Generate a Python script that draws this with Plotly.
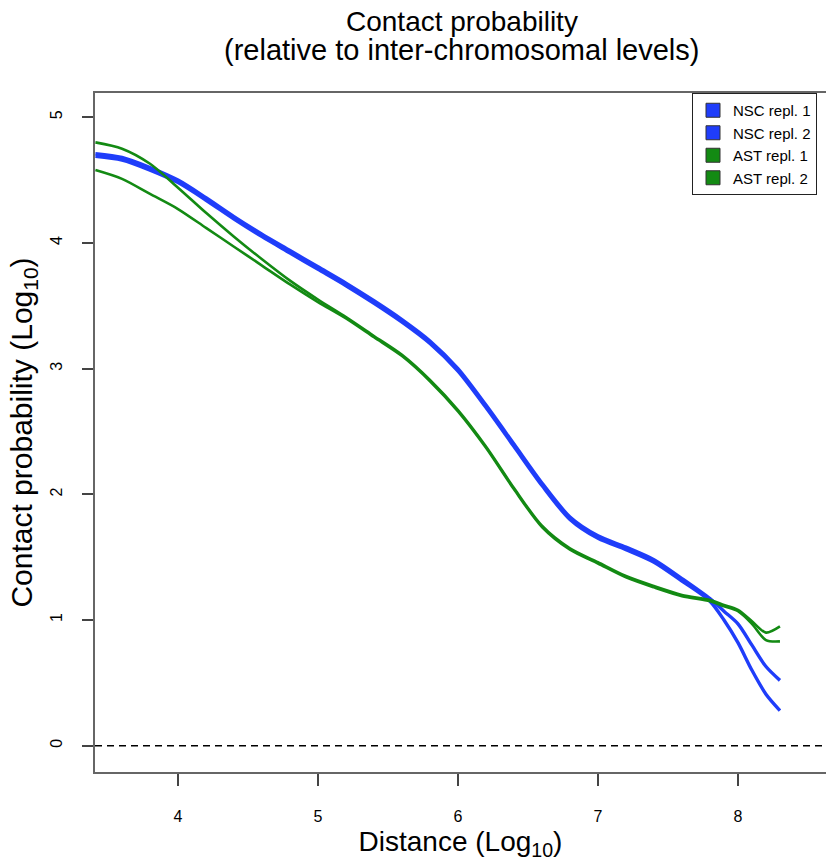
import plotly.graph_objects as go

# Distance (log10) grid shared by all curves
dist = [3.41, 3.6, 3.8, 4.0, 4.2, 4.4, 4.6, 4.8, 5.0, 5.2, 5.4, 5.6, 5.8, 6.0,
        6.2, 6.4, 6.6, 6.8, 7.0, 7.2, 7.4, 7.6, 7.8, 7.9, 8.0, 8.1, 8.2, 8.3]

# Contact probability (log10) per replicate
nsc_rep1 = [4.71, 4.68, 4.60, 4.50, 4.36, 4.21, 4.07, 3.94, 3.81, 3.68, 3.54,
            3.39, 3.22, 3.00, 2.71, 2.40, 2.09, 1.82, 1.67, 1.58, 1.48, 1.33,
            1.17, 1.07, 0.97, 0.80, 0.63, 0.52]
nsc_rep2 = [4.69, 4.66, 4.58, 4.48, 4.34, 4.19, 4.05, 3.92, 3.79, 3.66, 3.52,
            3.37, 3.20, 2.98, 2.69, 2.38, 2.07, 1.80, 1.65, 1.56, 1.46, 1.31,
            1.15, 1.00, 0.82, 0.60, 0.41, 0.28]
ast_rep1 = [4.80, 4.75, 4.63, 4.44, 4.24, 4.05, 3.87, 3.70, 3.55, 3.41, 3.26,
            3.11, 2.91, 2.67, 2.38, 2.05, 1.75, 1.57, 1.46, 1.35, 1.27, 1.20,
            1.16, 1.12, 1.08, 0.99, 0.90, 0.95]
ast_rep2 = [4.58, 4.51, 4.39, 4.27, 4.12, 3.97, 3.82, 3.67, 3.53, 3.40, 3.25,
            3.10, 2.90, 2.66, 2.37, 2.04, 1.74, 1.56, 1.45, 1.34, 1.26, 1.19,
            1.15, 1.11, 1.07, 0.97, 0.84, 0.83]

series_names = ["NSC repl. 1", "NSC repl. 2", "AST repl. 1", "AST repl. 2"]
BLUE = "#1f3dfa"
GREEN = "#138a13"
FONT = "Liberation Sans, Arial, Helvetica, sans-serif"

fig = go.Figure()

curves = [
    (nsc_rep1, BLUE, 3.4),
    (nsc_rep2, BLUE, 3.4),
    (ast_rep1, GREEN, 2.6),
    (ast_rep2, GREEN, 2.6),
]
for name, (ys, col, w) in zip(series_names, curves):
    fig.add_trace(go.Scatter(
        x=dist, y=ys, mode="lines", name=name, showlegend=False,
        line=dict(color=col, width=w, shape="spline", smoothing=0.8),
    ))

# filled-box legend keys
for name, col in zip(series_names, [BLUE, BLUE, GREEN, GREEN]):
    fig.add_trace(go.Scatter(
        x=[None], y=[None], mode="markers", name=name,
        marker=dict(symbol="square", size=14, color=col,
                    line=dict(color="#333333", width=1)),
    ))

# reference line at zero
fig.add_shape(type="line", xref="paper", x0=0, x1=1, yref="y", y0=0, y1=0,
              line=dict(color="black", width=1.5, dash="7px,5px"))

# two-line title
for txt, ypix, size in [("Contact probability", 22, 28),
                        ("(relative to inter-chromosomal levels)", 50, 29)]:
    fig.add_annotation(
        text=txt, xref="paper", yref="paper",
        x=0.502, y=(772 - ypix) / 679, xanchor="center", yanchor="middle",
        showarrow=False, font=dict(family=FONT, size=size, color="black"),
    )

fig.update_layout(
    width=826, height=861,
    margin=dict(l=95, r=0, t=93, b=89),
    paper_bgcolor="white", plot_bgcolor="white",
    font=dict(family=FONT, color="black"),
    showlegend=True,
    legend=dict(
        x=(692 - 95) / 731, xanchor="left", y=1.0, yanchor="top",
        bgcolor="white", bordercolor="#222222", borderwidth=1,
        font=dict(family=FONT, size=15, color="black"),
        entrywidth=140, itemwidth=30, tracegroupgap=0,
    ),
    xaxis=dict(
        range=[3.407, 8.629], tickvals=[4, 5, 6, 7, 8],
        showgrid=False, zeroline=False,
        showline=True, linecolor="#666666", linewidth=2, mirror=True,
        ticks="outside", ticklen=12, tickwidth=1.5, tickcolor="#444444",
        ticklabelstandoff=17,
        tickfont=dict(family=FONT, size=16, color="black"),
        title=dict(text="Distance (Log<sub>10</sub>)", standoff=7,
                   font=dict(family=FONT, size=28, color="black")),
    ),
    yaxis=dict(
        range=[-0.209, 5.193], tickvals=[0, 1, 2, 3, 4, 5],
        showgrid=False, zeroline=False,
        showline=True, linecolor="#666666", linewidth=2, mirror=False,
        ticks="outside", ticklen=11, tickwidth=1.5, tickcolor="#444444",
        tickangle=-90, ticklabelstandoff=14,
        tickfont=dict(family=FONT, size=16, color="black"),
        title=dict(text="Contact probability (Log<sub>10</sub>)", standoff=6,
                   font=dict(family=FONT, size=30, color="black")),
    ),
)

fig.write_html("out.html")
